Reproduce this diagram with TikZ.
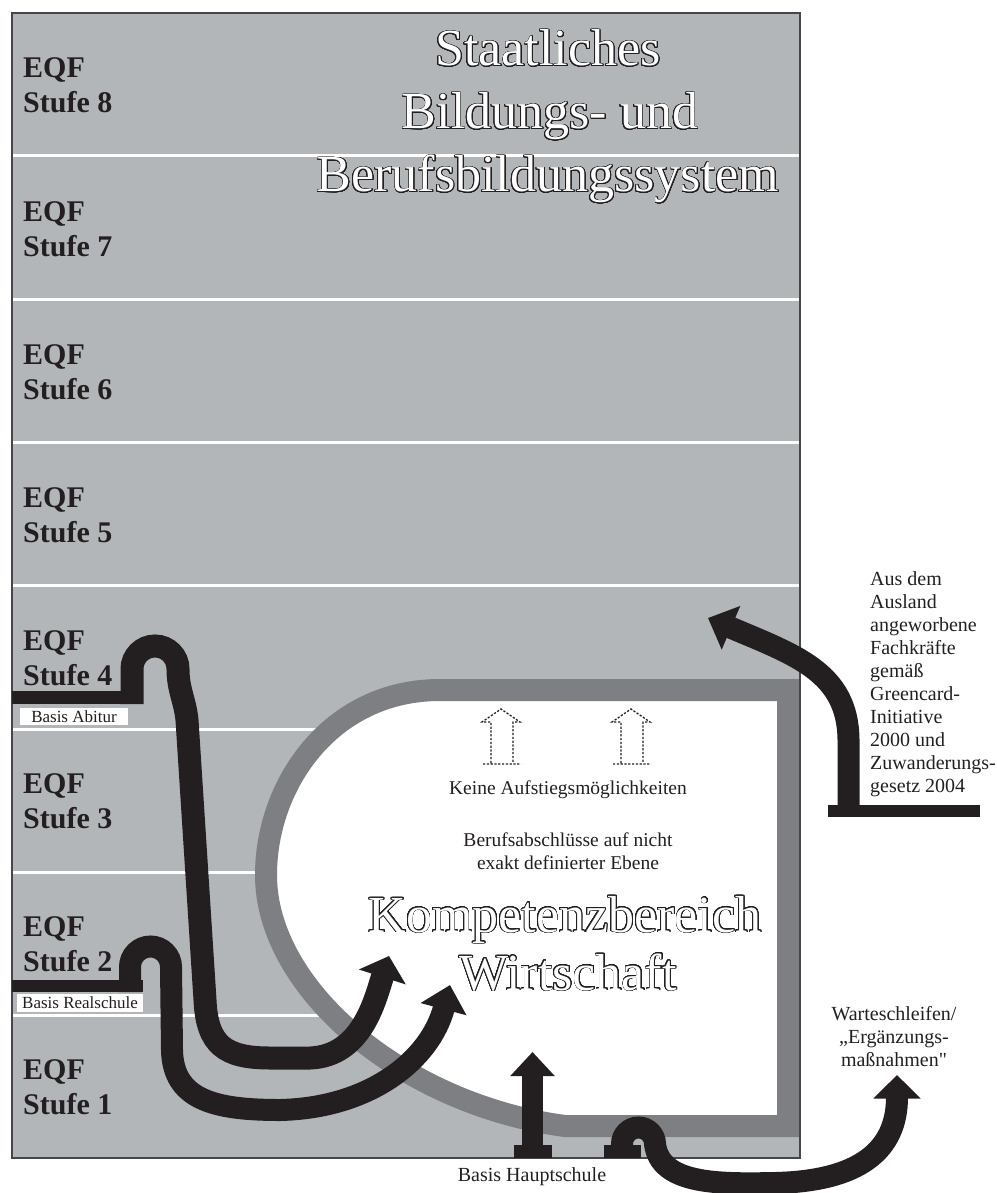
\documentclass[tikz,border=0pt]{standalone}
\usepackage{fontspec}
\setmainfont{Liberation Serif}
\usepackage{contour}
\contourlength{0.75pt}
\contournumber{32}
\usetikzlibrary{arrows.meta}
\definecolor{bg}{RGB}{179,182,185}
\definecolor{frame}{RGB}{126,127,131}
\definecolor{ink}{RGB}{35,31,32}
\definecolor{edge}{RGB}{70,70,72}
\begin{document}
\begin{tikzpicture}[x=1pt,y=-1pt,line join=miter,
  eqf/.style={anchor=base west,inner sep=0,text=ink,font=\fontsize{30}{34}\selectfont\bfseries},
  big/.style={anchor=base,inner sep=0,text=white,font=\fontsize{52}{60}\selectfont},
  note/.style={anchor=base,inner sep=0,text=ink,font=\fontsize{19.5}{23}\selectfont},
  side/.style={anchor=base west,inner sep=0,text=ink,font=\fontsize{20}{23}\selectfont},
  sidec/.style={anchor=base,inner sep=0,text=ink,font=\fontsize{20}{23}\selectfont},
  basisbox/.style={fill=white,inner sep=0,text=ink,font=\fontsize{17}{20}\selectfont},
  flow/.style={draw=ink,line width=22pt},
  bandline/.style={draw=white,line width=3pt},
  ghost/.style={draw=ink,line width=1.3pt,dash pattern=on 2.2pt off 1.6pt}
]
\useasboundingbox (0,0) rectangle (996,1193);
% background field
\fill[bg] (12,13) rectangle (800,1158);
\foreach \yy in {156,299,442,585,729,872,1015}
  \draw[bandline] (12.5,\yy) -- (799.5,\yy);
% Kompetenzbereich area
\filldraw[fill=white,draw=frame,line width=22pt]
  (440,690) -- (788,690) -- (788,1126) -- (565,1126)
  .. controls (405,1105) and (266,990) .. (266,875)
  .. controls (266,785) and (330,690) .. (440,690) -- cycle;
\draw[edge,line width=1.2pt] (12,13) rectangle (800,1158);
% EQF labels
\foreach \s [count=\i] in {8,7,6,5,4,3,2,1}{
  \node[eqf] (eqf\s) at (23,{13+143*(\i-1)+65}) {EQF};
  \node[eqf] (stufe\s) at (23,{13+143*(\i-1)+100}) {Stufe \s};
}
% titles
\node[big] (t1) at (548,66) {\contour{ink}{Staatliches}};
\node[big] (t2) at (550,129) {\contour{ink}{Bildungs- und}};
\node[big] (t3) at (548,192) {\contour{ink}{Berufsbildungssystem}};
\node[big] (k1) at (565,932) {\contour{ink}{Kompetenzbereich}};
\node[big] (k2) at (568,990) {\contour{ink}{Wirtschaft}};
% inner notes
\node[note] (keine) at (568,794) {Keine Aufstiegsmöglichkeiten};
\node[note] (beruf1) at (568,846) {Berufsabschlüsse auf nicht};
\node[note] (beruf2) at (568,869) {exakt definierter Ebene};
% dotted (impossible) arrows
\foreach \dx [count=\j] in {0,130}{
  \draw[ghost,xshift=\dx] (483,764) -- (521,764)
    (491,763) -- (491,722) -- (482,722) -- (501,709) -- (520,722) -- (513,722) -- (513,763);
}
% Basis Abitur path
\fill[ink] (12,691) rectangle (143,704);
\coordinate (aStart) at (132,704);
\coordinate (aTip) at (389,956);
\draw[flow,line width=23pt,-{Triangle[length=22pt,width=48pt]}] (aStart) -- (132,669)
  .. controls (132,656.3) and (142.3,646) .. (155,646)
  .. controls (167.7,646) and (178,656.3) .. (178,669)
  .. controls (178,690) and (185,700) .. (187,720) -- (205,1000)
  .. controls (207,1045) and (225,1058) .. (270,1058) -- (310,1058)
  .. controls (362,1056) and (375,1000) .. (aTip);
\node[basisbox,minimum width=108pt,minimum height=17pt] (abitur) at (74,716.5) {Basis Abitur};
% Basis Realschule path
\fill[ink] (12,980) rectangle (143,992);
\coordinate (bStart) at (130,992);
\coordinate (bTip) at (450,985);
\draw[flow,-{Triangle[length=25pt,width=46pt]}] (bStart) -- (130,967)
  .. controls (130,955.7) and (139.2,946.5) .. (150.5,946.5)
  .. controls (161.8,946.5) and (171,955.7) .. (171,967) -- (172,1050)
  .. controls (173,1100) and (215,1110) .. (280,1110)
  .. controls (370,1108) and (430,1060) .. (bTip);
\node[basisbox,minimum width=126pt,minimum height=18pt] (real) at (80,1003) {Basis Realschule};
% Basis Hauptschule up arrow
\fill[ink] (514,1145) rectangle (552,1158);
\coordinate (cStart) at (532.5,1146);
\coordinate (cTip) at (532.5,1052);
\draw[flow,line width=21pt,-{Triangle[length=24pt,width=43pt]}] (cStart) -- (cTip);
\node[sidec] (haupt) at (532,1181) {Basis Hauptschule};
% Warteschleifen arrow
\fill[ink] (604,1145) rectangle (641,1158);
\coordinate (dStart) at (622,1150);
\coordinate (dTip) at (897,1075);
\draw[flow,-{Triangle[length=23.5pt,width=46pt]}] (dStart) -- (622,1144)
  .. controls (622,1134.9) and (629.4,1127.5) .. (638.5,1127.5)
  .. controls (647.6,1127.5) and (655,1134.9) .. (655,1144)
  .. controls (660,1185) and (720,1184) .. (775,1183)
  .. controls (860,1181) and (897,1150) .. (dTip);
\node[sidec] (w1) at (894,1020) {Warteschleifen/};
\node[sidec] (w2) at (894,1043) {„Ergänzungs-};
\node[sidec] (w3) at (894,1066) {maßnahmen\addfontfeatures{Ligatures=TeXOff}"};
% Greencard arrow
\fill[ink] (828,805) rectangle (980,817);
\coordinate (eStart) at (848.5,811);
\coordinate (eTip) at (708,618);
\draw[flow,-{Triangle[length=25pt,width=46pt]}] (eStart) -- (848.5,740)
  .. controls (848,672) and (795,655) .. (eTip);
\foreach \t [count=\i] in {Aus dem,Ausland,angeworbene,Fachkräfte,gemäß,Greencard-,Initiative,2000 und,Zuwanderungs-,gesetz 2004}
  \node[side] (g\i) at (870,{561.9+23.1*\i}) {\t};
\end{tikzpicture}
\end{document}
